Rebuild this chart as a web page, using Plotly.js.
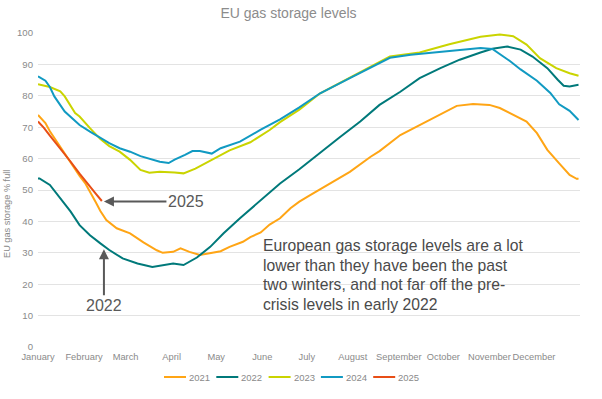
<!DOCTYPE html>
<html>
<head>
<meta charset="utf-8">
<script src="https://cdn.plot.ly/plotly-3.0.1.min.js"></script>
<style>html,body{margin:0;padding:0;background:#fff;}#chart{width:602px;height:399px;}</style>
</head>
<body>
<div id="chart"></div>
<script>
// x = day of year (0 = 1 January), y = % full
const monthLabels = ["January","February","March","April","May","June","July","August","September","October","November","December"];
const monthStartDays = [0,31,59,90,120,151,181,212,243,273,304,334];
const yTicks = [0,10,20,30,40,50,60,70,80,90,100];

const seriesNames = ["2021","2022","2023","2024","2025"];
const seriesColors = ["#ffa515","#00797a","#cad400","#119ac2","#e84e16"];

const days2021 = [0,5,8,15,19,22,28,32,35,39,42,46,53,60,62,71,80,84,89,91,96,102,109,116,123,129,138,143,150,156,163,170,176,183,197,210,224,230,244,257,271,282,293,304,311,320,329,336,343,351,358,363,364];
const vals2021 = [73.9,71.3,68.7,63.6,60.9,58.8,54.5,52,49.6,46,43.3,40.4,37.8,36.7,36.2,33.3,30.8,30,30.2,30.3,31.4,30.3,29.3,29.8,30.5,31.9,33.5,35,36.5,39,41,44.2,46.3,48.3,52.1,55.8,60.6,62.4,67.5,70.7,73.9,76.8,77.4,77.1,76.1,73.9,71.8,68.1,62.8,58.5,54.8,53.5,53.7];

const days2022 = [0,1,8,15,22,28,35,42,48,57,67,77,84,91,98,107,116,125,136,150,163,176,190,203,217,230,244,257,271,284,298,306,316,325,333,343,350,354,358,364];
const vals2022 = [53.7,53.7,51.6,47.4,43.1,38.8,35.6,33,30.9,28.2,26.6,25.5,26.1,26.6,26.1,28.5,31.9,36.2,41,46.8,52.1,56.6,61.9,66.7,71.8,77.1,81.3,85.6,88.8,91.5,93.8,95,95.7,94.7,92.5,88.8,85.1,83.2,83,83.5];

const days2023 = [0,8,15,18,25,28,35,42,48,55,62,69,75,82,92,98,106,114,123,129,143,156,163,176,190,210,220,230,237,257,277,298,311,320,329,338,349,358,364];
const vals2023 = [83.7,82.8,81.4,79.8,74.5,73.4,69.7,66.2,64,62.2,59.6,56.4,55.5,55.8,55.6,55.3,56.8,58.8,61.2,62.6,65.2,69.1,71.6,75.6,80.8,85.7,88.1,90.6,92.5,93.8,96.4,98.8,99.5,99,96.3,92,88.8,87.2,86.4];

const days2024 = [0,5,8,11,18,25,28,35,42,48,55,62,69,75,82,88,92,99,104,109,114,117,123,129,136,150,163,176,190,210,220,230,237,251,266,284,298,306,313,318,325,336,345,351,358,364];
const vals2024 = [86.2,84.8,82.8,79.8,75,71.8,70.7,68.6,66.5,64.9,63.3,62.2,60.8,59.9,59,58.6,59.7,61.2,62.4,62.4,61.9,61.6,63.3,64.2,65.4,69.2,72.5,76.3,80.8,85.6,88,90.4,92.1,93.1,93.8,94.7,95.2,94.9,92.7,91,88.4,84.8,80.9,77.3,75.2,72.3];

const days2025 = [0,4,8,15,19,22,28,32,35,39,43];
const vals2025 = [71.8,69.8,67.3,63.2,61,59,55.2,53,51.2,48.8,46.5];

const allDays = [days2021,days2022,days2023,days2024,days2025];
const allVals = [vals2021,vals2022,vals2023,vals2024,vals2025];

const noteLines = [
  "European gas storage levels are a lot",
  "lower than they have been the past",
  "two winters, and not far off the pre-",
  "crisis levels in early 2022"
];

const traces = seriesNames.map((n,i)=>({
  type:"scatter", mode:"lines", name:n,
  x: allDays[i], y: allVals[i],
  line:{color:seriesColors[i], width:2},
  showlegend:false, hoverinfo:"skip"
}));

const fontFam = "'Liberation Sans', Arial, sans-serif";
const grey = "#8a8a8a";

// custom legend (paper coordinates)
const W = 602, H = 399, L = 38, R = 22, T = 33, B = 52;
const pw = W - L - R, ph = H - T - B;
const px2paperX = p => (p - L) / pw;
const px2paperY = p => (H - B - p) / ph;
const legendShapes = [], legendAnn = [];
seriesNames.forEach((n,i)=>{
  const x0 = 164 + i*52.3;
  legendShapes.push({type:"line", xref:"paper", yref:"paper",
    x0:px2paperX(x0), x1:px2paperX(x0+22), y0:px2paperY(377), y1:px2paperY(377),
    line:{color:seriesColors[i], width:2}});
  legendAnn.push({xref:"paper", yref:"paper", x:px2paperX(x0+23), y:px2paperY(377),
    xanchor:"left", yanchor:"middle", showarrow:false, text:n,
    font:{family:fontFam, size:9.5, color:grey}});
});

const noteAnn = noteLines.map((t,i)=>({
  xref:"paper", yref:"paper", x:px2paperX(261), y:px2paperY(245.7 + i*19.55),
  xanchor:"left", yanchor:"middle", showarrow:false, text:t,
  font:{family:fontFam, size:15.7, color:"#4a4a4a"}
}));

const layout = {
  width:W, height:H,
  margin:{l:L, r:R, t:T, b:B, pad:0},
  paper_bgcolor:"#ffffff", plot_bgcolor:"#ffffff",
  font:{family:fontFam, color:grey},
  title:{text:"EU gas storage levels", x:288.5/W, xref:"container", xanchor:"center",
         y:1-13.5/H, yref:"container", yanchor:"middle",
         font:{family:fontFam, size:14, color:"#8c8c8c"}},
  xaxis:{range:[0,365], tickvals:monthStartDays, ticktext:monthLabels, tickangle:0,
         showgrid:false, zeroline:false, showline:false, ticks:"", ticklabelstandoff:3,
         tickfont:{family:fontFam, size:9.3, color:grey}, fixedrange:true},
  yaxis:{range:[0,100], tickvals:yTicks, showgrid:true, gridcolor:"#e3e3e3", gridwidth:1,
         zeroline:false, showline:false, ticks:"", ticklabelstandoff:4,
         tickfont:{family:fontFam, size:9.6, color:grey}, fixedrange:true},
  shapes: legendShapes,
  annotations: [
    {xref:"paper", yref:"paper", x:px2paperX(7), y:px2paperY(214), textangle:-90,
     text:"EU gas storage % full", showarrow:false, xanchor:"center", yanchor:"middle",
     font:{family:fontFam, size:9.2, color:grey}},
    {x:44.4, y:46.3, xref:"x", yref:"y", text:"2025", showarrow:true,
     ax:82, ay:0, arrowhead:2, arrowsize:1, arrowwidth:2, arrowcolor:"#595959",
     font:{family:fontFam, size:16, color:"#595959"}},
    {x:44.4, y:31.1, xref:"x", yref:"y", text:"2022", showarrow:true,
     ax:0, ay:56, arrowhead:2, arrowsize:1, arrowwidth:2, arrowcolor:"#595959",
     font:{family:fontFam, size:16, color:"#595959"}}
  ].concat(noteAnn, legendAnn)
};

Plotly.newPlot("chart", traces, layout, {displayModeBar:false, staticPlot:true});
</script>
</body>
</html>
